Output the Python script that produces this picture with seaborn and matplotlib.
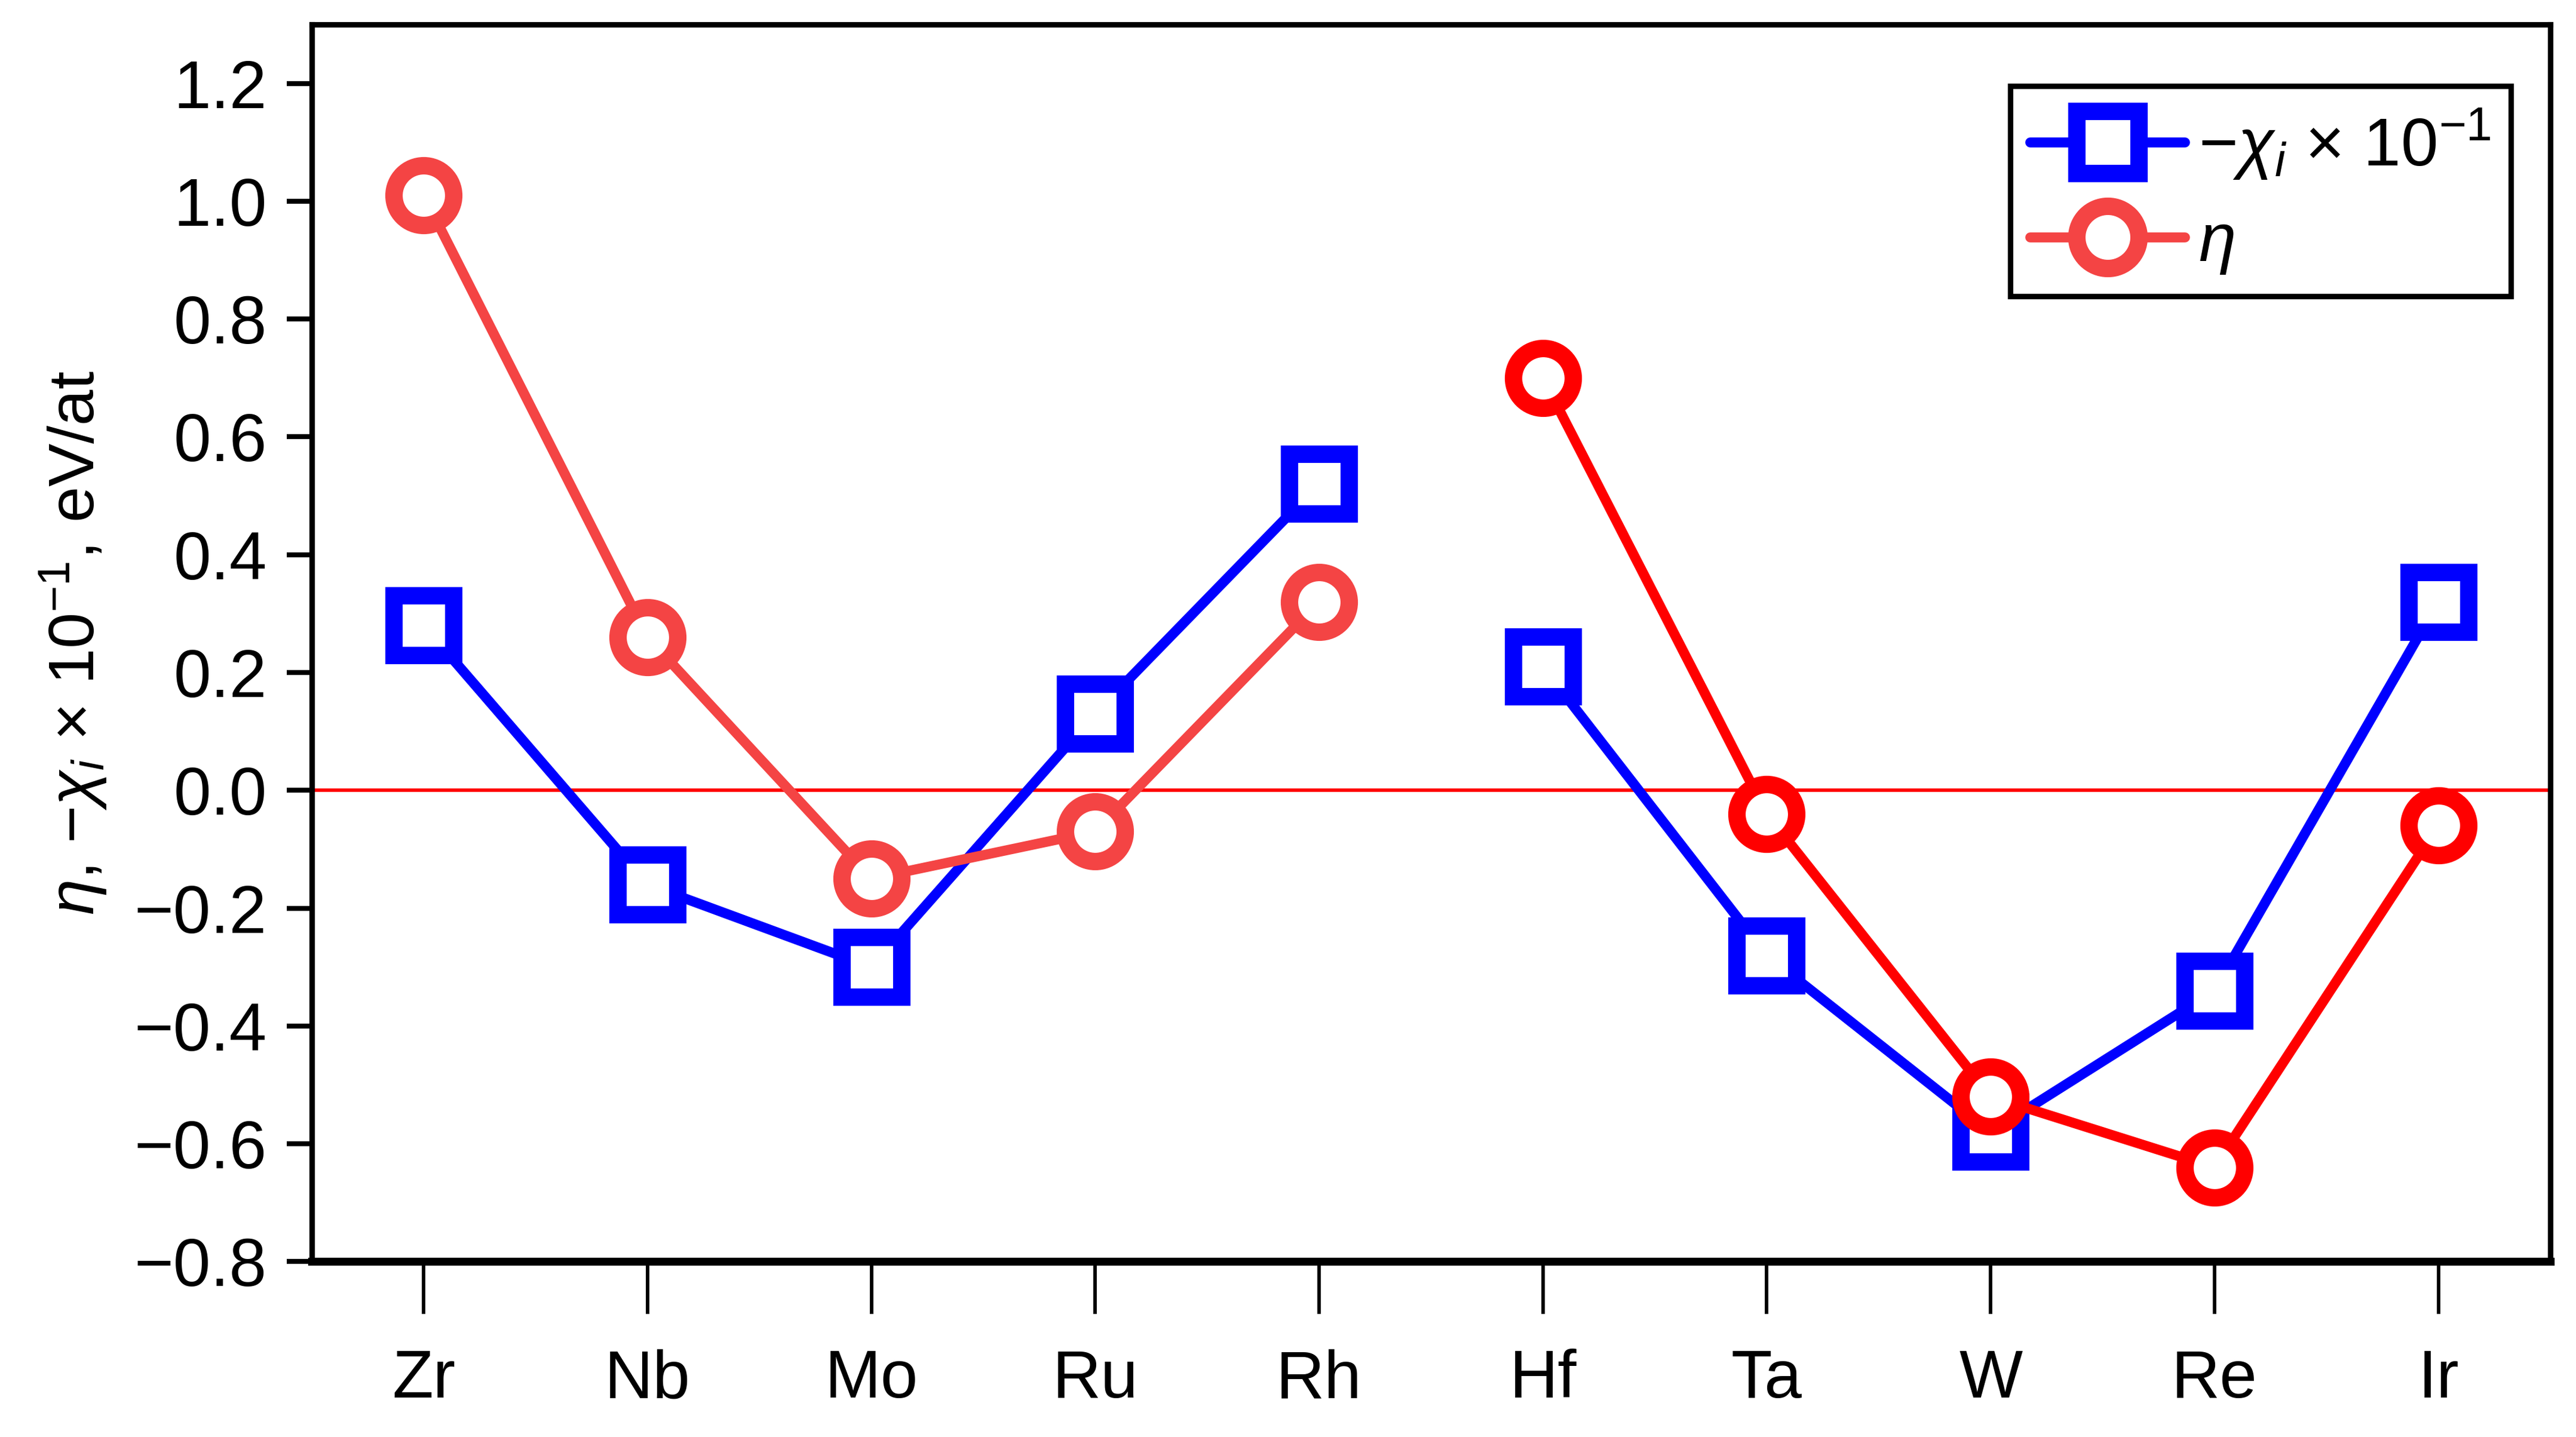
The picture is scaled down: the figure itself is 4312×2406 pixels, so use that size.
import pandas as pd
import numpy as np
import matplotlib
matplotlib.use("Agg")
import matplotlib.pyplot as plt
import seaborn as sns
from matplotlib.lines import Line2D

# element labels along x
elements = ["Zr", "Nb", "Mo", "Ru", "Rh", "Hf", "Ta", "W", "Re", "Ir"]
# -chi_i x 10^-1 (blue squares)
chi_vals = [0.28, -0.16, -0.30, 0.13, 0.52, 0.21, -0.28, -0.58, -0.34, 0.32]
# eta (red circles)
eta_vals = [1.01, 0.26, -0.15, -0.07, 0.32, 0.70, -0.04, -0.52, -0.64, -0.06]
# 4d group vs 5d group (lines are broken between Rh and Hf)
groups = ["4d"] * 5 + ["5d"] * 5
y_ticks = [-0.8, -0.6, -0.4, -0.2, 0.0, 0.2, 0.4, 0.6, 0.8, 1.0, 1.2]

sns.set_theme(style="white")
plt.rcParams["font.family"] = ["Liberation Sans", "DejaVu Sans"]
plt.rcParams["mathtext.fontset"] = "custom"
plt.rcParams["mathtext.rm"] = "Liberation Sans"
plt.rcParams["mathtext.it"] = "Liberation Sans:italic"
for key in ["text.color", "axes.labelcolor", "xtick.color", "ytick.color"]:
    plt.rcParams[key] = "black"

pos = np.arange(len(elements))
df = pd.DataFrame({
    "pos": np.concatenate([pos, pos]),
    "value": chi_vals + eta_vals,
    "series": ["chi"] * len(pos) + ["eta"] * len(pos),
    "group": groups + groups,
})

fig = plt.figure(figsize=(4312 / 300, 2406 / 300), dpi=300)
ax = fig.add_axes([0.121, 0.122, 0.869, 0.861])

ax.axhline(0, color="#FF0000", lw=1.4, zorder=1)

styles = {
    ("chi", "4d"): dict(color="#0000FF", marker="s"),
    ("chi", "5d"): dict(color="#0000FF", marker="s"),
    ("eta", "4d"): dict(color="#F44444", marker="o"),
    ("eta", "5d"): dict(color="#FF0000", marker="o"),
}
for (ser, grp), st in styles.items():
    sub = df[(df["series"] == ser) & (df["group"] == grp)]
    sns.lineplot(data=sub, x="pos", y="value", ax=ax, color=st["color"],
                 marker=st["marker"], markersize=24, markeredgewidth=7,
                 markerfacecolor="white", markeredgecolor=st["color"],
                 lw=4, zorder=3, legend=False)

ax.set_xlim(-0.5, 9.5)
ax.set_ylim(-0.8, 1.3)
ax.set_xticks(pos)
ax.set_xticklabels(elements)
ax.set_yticks(y_ticks)
ax.set_yticklabels([f"{t:.1f}".replace("-", "\u2212") for t in y_ticks])
ax.set_xlabel("")
ax.set_ylabel(r"$\eta$, $-\chi_i$ × $\mathregular{10^{-1}}$, eV/at", fontsize=26, labelpad=10)

ax.tick_params(axis="x", direction="out", length=21, width=1.4, pad=14,
               labelsize=27, bottom=True, color="black", labelcolor="black")
ax.tick_params(axis="y", direction="out", length=10, width=2, pad=8,
               labelsize=27, left=True, color="black", labelcolor="black")
for side, sp in ax.spines.items():
    sp.set_color("black")
    sp.set_linewidth(2.2)
ax.spines["bottom"].set_linewidth(3.2)

handles = [
    Line2D([], [], color="#0000FF", marker="s", markersize=25, markeredgewidth=7,
           markerfacecolor="white", lw=4),
    Line2D([], [], color="#F44444", marker="o", markersize=25, markeredgewidth=7,
           markerfacecolor="white", lw=4),
]
leg = ax.legend(handles, [r"$-\chi_i$ × 10$^{-1}$", r"$\eta$"],
                loc="upper right", bbox_to_anchor=(0.9825, 0.95),
                fontsize=27, frameon=True, fancybox=False, edgecolor="black",
                framealpha=1, handlelength=2.3, borderpad=0.3, labelspacing=0.45,
                handletextpad=0.2, borderaxespad=0)
leg.get_frame().set_linewidth(2.2)
for t in leg.get_texts():
    t.set_color("black")

fig.savefig("out.png", dpi=300)
